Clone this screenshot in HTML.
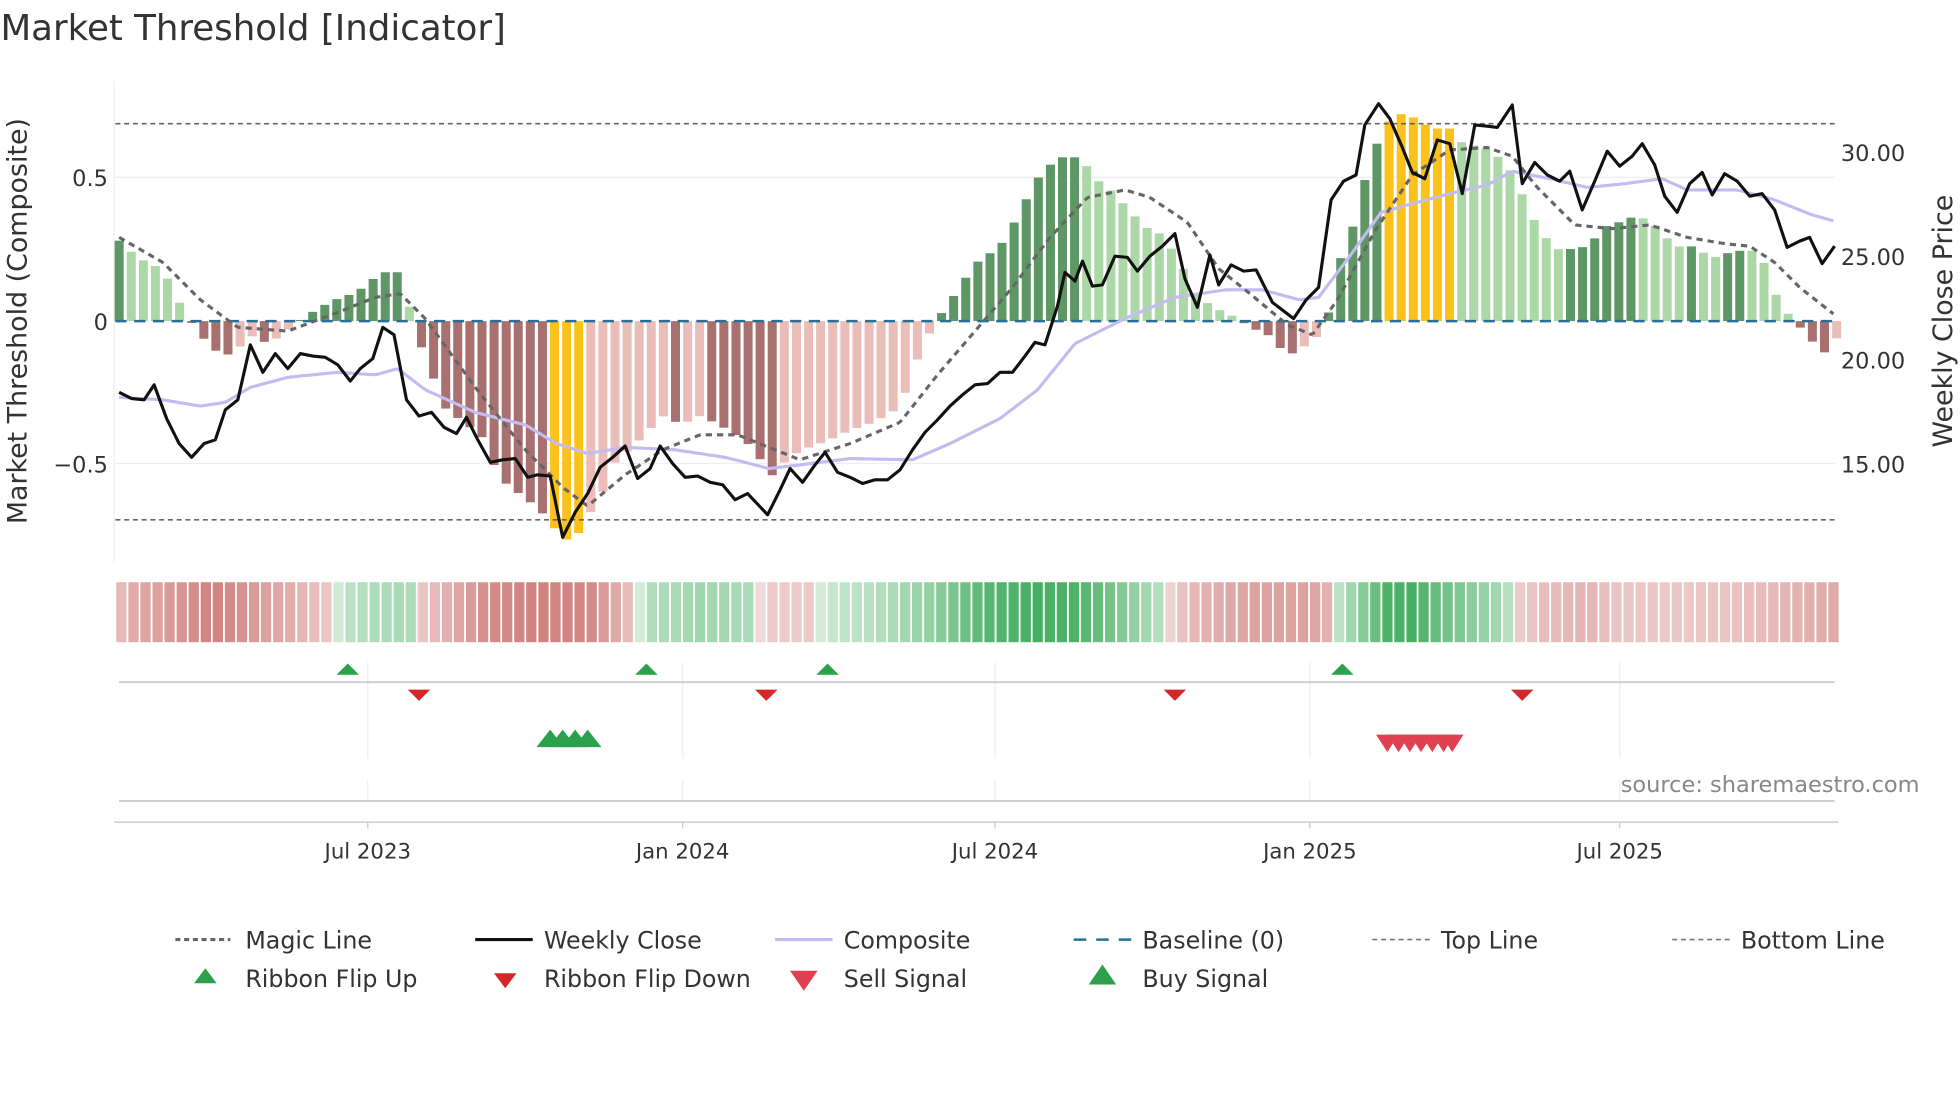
<!DOCTYPE html>
<html><head><meta charset="utf-8"><style>
html,body{margin:0;padding:0;background:#fff;width:1960px;height:1102px;overflow:hidden}
svg{display:block}
text{font-family:"DejaVu Sans","Liberation Sans",sans-serif;fill:#333}
</style></head><body>
<svg id="s" width="1960" height="1102" viewBox="0 0 1568 882" xmlns="http://www.w3.org/2000/svg">
<text x="0" y="32" font-size="28.5">Market Threshold [Indicator]</text>
<line x1="91" y1="65" x2="91" y2="450" stroke="#eee"/>
<line x1="92" y1="142" x2="1468" y2="142" stroke="#eee"/>
<line x1="92" y1="371" x2="1468" y2="371" stroke="#eee"/>
<g id="bars"></g>
<line x1="92" y1="99" x2="1468" y2="99" stroke="#666" stroke-dasharray="4,3" stroke-width="1.3"/>
<line x1="92" y1="416" x2="1468" y2="416" stroke="#666" stroke-dasharray="4,3" stroke-width="1.3"/>
<line x1="92" y1="257" x2="1468" y2="257" stroke="#2a6f97" stroke-dasharray="9,6" stroke-width="2"/>
<path id="comp" fill="none" stroke="#c3bcf0" stroke-width="2.5"/>
<path id="magic" fill="none" stroke="#666" stroke-width="2.5" stroke-dasharray="5,4"/>
<path id="close" fill="none" stroke="#111" stroke-width="2.5" stroke-linejoin="round"/>
<g font-size="18">
<text x="86" y="149" text-anchor="end">0.5</text>
<text x="86" y="264" text-anchor="end">0</text>
<text x="86" y="378" text-anchor="end">−0.5</text>
<text x="1473" y="129">30.00</text>
<text x="1473" y="212">25.00</text>
<text x="1473" y="295">20.00</text>
<text x="1473" y="378">15.00</text>
</g>
<text transform="translate(21,257) rotate(-90)" font-size="21.5" text-anchor="middle">Market Threshold (Composite)</text>
<text transform="translate(1562,257) rotate(-90)" font-size="21.5" text-anchor="middle">Weekly Close Price</text>
<g id="rib"></g>
<g stroke="#eee" stroke-width="1">
<line x1="294" y1="530" x2="294" y2="607"/><line x1="546" y1="530" x2="546" y2="607"/><line x1="796" y1="530" x2="796" y2="607"/><line x1="1048" y1="530" x2="1048" y2="607"/><line x1="1296" y1="530" x2="1296" y2="607"/>
<line x1="294" y1="625" x2="294" y2="641"/><line x1="546" y1="625" x2="546" y2="641"/><line x1="796" y1="625" x2="796" y2="641"/><line x1="1048" y1="625" x2="1048" y2="641"/><line x1="1296" y1="625" x2="1296" y2="641"/>
</g>
<line x1="95" y1="546" x2="1468" y2="546" stroke="#ccc" stroke-width="1.5"/>
<line x1="95" y1="641" x2="1468" y2="641" stroke="#ccc" stroke-width="1.5"/>
<line x1="91" y1="658" x2="1471" y2="658" stroke="#ccc" stroke-width="1.2"/>
<g id="sig"></g>
<text x="1536" y="634" font-size="18" text-anchor="end" style="fill:#888">source: sharemaestro.com</text>
<g font-size="17" text-anchor="middle">
<line x1="294" y1="658" x2="294" y2="663" stroke="#ccc"/><text x="294" y="687">Jul 2023</text>
<line x1="546" y1="658" x2="546" y2="663" stroke="#ccc"/><text x="546" y="687">Jan 2024</text>
<line x1="796" y1="658" x2="796" y2="663" stroke="#ccc"/><text x="796" y="687">Jul 2024</text>
<line x1="1048" y1="658" x2="1048" y2="663" stroke="#ccc"/><text x="1048" y="687">Jan 2025</text>
<line x1="1296" y1="658" x2="1296" y2="663" stroke="#ccc"/><text x="1296" y="687">Jul 2025</text>
</g>
<g font-size="19">
<line x1="140" y1="752" x2="184" y2="752" stroke="#666" stroke-width="2.5" stroke-dasharray="4,3"/><text x="196" y="759">Magic Line</text>
<line x1="380" y1="752" x2="426" y2="752" stroke="#111" stroke-width="2.5"/><text x="435" y="759">Weekly Close</text>
<line x1="620" y1="752" x2="666" y2="752" stroke="#c3bcf0" stroke-width="2.5"/><text x="675" y="759">Composite</text>
<line x1="859" y1="752" x2="905" y2="752" stroke="#2a6f97" stroke-width="2" stroke-dasharray="10,8"/><text x="914" y="759">Baseline (0)</text>
<line x1="1098" y1="752" x2="1144" y2="752" stroke="#777" stroke-width="1.3" stroke-dasharray="4,3"/><text x="1153" y="759">Top Line</text>
<line x1="1338" y1="752" x2="1384" y2="752" stroke="#777" stroke-width="1.3" stroke-dasharray="4,3"/><text x="1393" y="759">Bottom Line</text>
<polygon points="155,787 164,775 173,787" fill="#2ca04c"/><text x="196" y="790">Ribbon Flip Up</text>
<polygon points="395,779 404,791 413,779" fill="#d62728"/><text x="435" y="790">Ribbon Flip Down</text>
<polygon points="632,777 643,793 654,777" fill="#e04050"/><text x="675" y="790">Sell Signal</text>
<polygon points="871,788 882,772 893,788" fill="#2ca04c"/><text x="914" y="790">Buy Signal</text>
</g>
</svg>
<script>
function interp(k,x){if(x<=k[0][0])return k[0][1];for(let i=1;i<k.length;i++){if(x<=k[i][0]){const a=k[i-1],b=k[i];return a[1]+(b[1]-a[1])*(x-a[0])/(b[0]-a[0]);}}return k[k.length-1][1];}
function pth(k){return 'M'+k.map(p=>p[0]+','+p[1]).join(' L');}
function smooth(k){let d='M'+k[0][0]+','+k[0][1];for(let x=k[0][0]+2;x<=k[k.length-1][0];x+=2)d+=' L'+x+','+interp(k,x).toFixed(1);return d;}
const bk=[[95,.28],[110,.22],[130,.18],[145,.05],[155,-.02],[170,-.1],[185,-.12],[200,-.05],[215,-.08],[230,-.03],[245,.02],[265,.07],[285,.1],[305,.17],[318,.17],[326,.07],[336,-.08],[345,-.18],[355,-.3],[370,-.35],[385,-.4],[400,-.55],[415,-.6],[430,-.65],[440,-.7],[450,-.76],[460,-.76],[470,-.68],[480,-.62],[490,-.5],[500,-.46],[515,-.4],[530,-.33],[545,-.36],[560,-.33],[575,-.36],[590,-.4],[605,-.45],[615,-.55],[625,-.5],[640,-.45],[660,-.42],[680,-.38],[700,-.35],[720,-.3],[735,-.12],[745,-.03],[755,.04],[765,.1],[780,.2],[800,.26],[815,.37],[825,.46],[835,.53],[850,.57],[865,.57],[875,.5],[890,.45],[905,.38],[915,.33],[930,.3],[945,.2],[955,.1],[970,.05],[985,.02],[1000,-.02],[1015,-.05],[1030,-.12],[1040,-.1],[1055,-.05],[1065,.05],[1075,.27],[1085,.35],[1095,.55],[1105,.65],[1115,.72],[1125,.72],[1135,.7],[1145,.67],[1160,.67],[1170,.62],[1190,.6],[1205,.55],[1215,.47],[1225,.37],[1235,.3],[1245,.25],[1255,.25],[1270,.26],[1285,.33],[1300,.35],[1310,.37],[1325,.33],[1340,.26],[1355,.26],[1370,.22],[1385,.24],[1400,.25],[1410,.22],[1420,.1],[1430,.03],[1440,-.02],[1450,-.07],[1458,-.12],[1468,-.06]];
let bars='',prev=null;const step=9.68;
for(let i=0;i<143;i++){const x=95+i*step;const v=interp(bk,x);const rising=prev===null?true:v>=prev;prev=v;
let c;if((x>=435&&x<=472)||(x>=1106&&x<=1164))c='#fbc21b';else if(v>=0)c=rising?'#5f9665':'#acd8a8';else c=rising?'#ebbdb8':'#a8706e';
const y0=257,y1=257-v*230;bars+=`<rect x="${(x-3.6).toFixed(1)}" y="${Math.min(y0,y1).toFixed(1)}" width="7.2" height="${Math.abs(y1-y0).toFixed(1)}" fill="${c}"/>`;}
document.getElementById('bars').innerHTML=bars;
const rk=[[92,-.15],[100,-.4],[140,-.6],[170,-.8],[200,-.6],[240,-.35],[268,-.12],[272,.15],[300,.25],[328,.3],[332,-.12],[360,-.4],[390,-.7],[430,-.8],[470,-.75],[495,-.4],[510,-.12],[514,.2],[560,.35],[607,.25],[609,-.15],[655,-.15],[657,.1],[700,.2],[740,.4],[790,.8],[830,.9],[860,.85],[890,.6],[920,.3],[935,.15],[937,-.15],[960,-.35],[1000,-.5],[1050,-.5],[1068,-.3],[1070,.15],[1090,.5],[1110,.85],[1130,.9],[1160,.6],[1195,.35],[1212,.15],[1214,-.12],[1235,-.25],[1270,-.35],[1290,-.2],[1330,-.15],[1380,-.2],[1420,-.3],[1472,-.45]];
let rib='';const rs=(1472-92)/143;
for(let i=0;i<143;i++){const x=92+i*rs;const v=interp(rk,x+rs/2);const t=Math.min(1,Math.abs(v));let rc;
if(v>=0)rc=`rgb(${Math.round(215-t*160)},${Math.round(238-t*70)},${Math.round(220-t*135)})`;else rc=`rgb(${Math.round(242-t*42)},${Math.round(218-t*110)},${Math.round(218-t*114)})`;
rib+=`<rect x="${(x+0.7).toFixed(1)}" y="466" width="${(rs-1.5).toFixed(1)}" height="48" fill="${rc}"/>`;}
document.getElementById('rib').innerHTML=rib;
const ck=[[95,314],[105,319],[115,320],[123,308],[133,335],[143,355],[153,366],[163,355],[172,352],[180,328],[190,320],[200,276],[210,298],[220,283],[230,295],[240,283],[250,285],[260,286],[270,292],[280,305],[288,295],[298,287],[306,262],[315,268],[325,320],[335,333],[345,330],[355,342],[365,347],[373,334],[382,352],[392,370],[402,368],[412,367],[422,382],[430,380],[440,381],[450,430],[460,410],[470,395],[480,374],[490,366],[500,357],[510,383],[520,375],[528,357],[538,371],[548,382],[558,381],[568,386],[578,388],[588,400],[598,395],[614,412],[624,392],[632,375],[642,386],[652,372],[660,362],[670,378],[680,382],[690,387],[700,384],[710,384],[720,376],[730,360],[740,346],[750,336],[760,325],[770,316],[780,308],[790,307],[800,298],[810,298],[820,285],[828,274],[836,276],[846,245],[852,218],[860,225],[866,209],[874,229],[882,228],[892,205],[902,206],[910,217],[920,205],[930,197],[940,187],[948,223],[958,246],[968,204],[975,228],[985,212],[995,217],[1005,216],[1018,242],[1035,255],[1045,240],[1055,230],[1065,160],[1075,145],[1085,140],[1092,100],[1103,83],[1112,95],[1122,118],[1130,138],[1140,143],[1150,112],[1160,115],[1170,155],[1180,100],[1190,101],[1198,102],[1210,84],[1218,147],[1228,130],[1238,140],[1248,145],[1256,137],[1266,168],[1276,145],[1286,121],[1296,133],[1306,125],[1314,115],[1324,132],[1332,157],[1342,170],[1352,147],[1362,138],[1370,156],[1380,139],[1390,145],[1400,157],[1410,155],[1420,168],[1430,198],[1440,193],[1448,190],[1458,211],[1468,197]];
document.getElementById('close').setAttribute('d',pth(ck));
const pk=[[95,318],[130,320],[160,325],[180,322],[200,310],[230,302],[270,298],[300,300],[318,295],[340,312],[380,330],[420,340],[445,355],[470,363],[500,358],[540,360],[580,366],[615,375],[640,372],[680,367],[730,368],[760,355],[800,335],[830,312],[860,275],[900,255],[940,238],[980,232],[1010,232],[1040,240],[1055,238],[1080,205],[1105,170],[1130,163],[1160,155],[1190,148],[1210,137],[1240,143],[1270,150],[1300,147],[1330,143],[1350,152],[1390,152],[1420,160],[1450,172],[1468,177]];
document.getElementById('comp').setAttribute('d',smooth(pk));
const mk=[[95,190],[130,210],[160,240],[190,262],[230,265],[270,250],[300,238],[320,235],[340,255],[380,310],[420,360],[450,390],[470,405],[500,380],[530,360],[560,348],[590,348],[620,360],[640,368],[680,355],[720,338],[750,300],[780,265],[810,230],[840,190],[870,158],[900,152],[920,158],[950,178],[975,215],[1000,235],[1030,260],[1050,268],[1070,240],[1100,185],[1130,140],[1160,120],[1190,118],[1210,125],[1230,150],[1260,180],[1290,183],[1320,180],[1350,190],[1380,195],[1400,197],[1420,210],[1440,230],[1468,252]];
document.getElementById('magic').setAttribute('d',smooth(mk));
let s='';
[278,517,662,1074].forEach(x=>s+=`<polygon points="${x-9},540 ${x},531 ${x+9},540" fill="#2ca04c"/>`);
[335,613,940,1218].forEach(x=>s+=`<polygon points="${x-9},552 ${x},561 ${x+9},552" fill="#d62728"/>`);
[440,450,460,470].forEach(x=>s+=`<polygon points="${x-11},598 ${x},584 ${x+11},598" fill="#2ca04c"/>`);
[1110,1119,1128,1137,1146,1155,1162].forEach(x=>s+=`<polygon points="${x-9},588 ${x},602 ${x+9},588" fill="#e04050"/>`);
document.getElementById('sig').innerHTML=s;
</script>
</body></html>
